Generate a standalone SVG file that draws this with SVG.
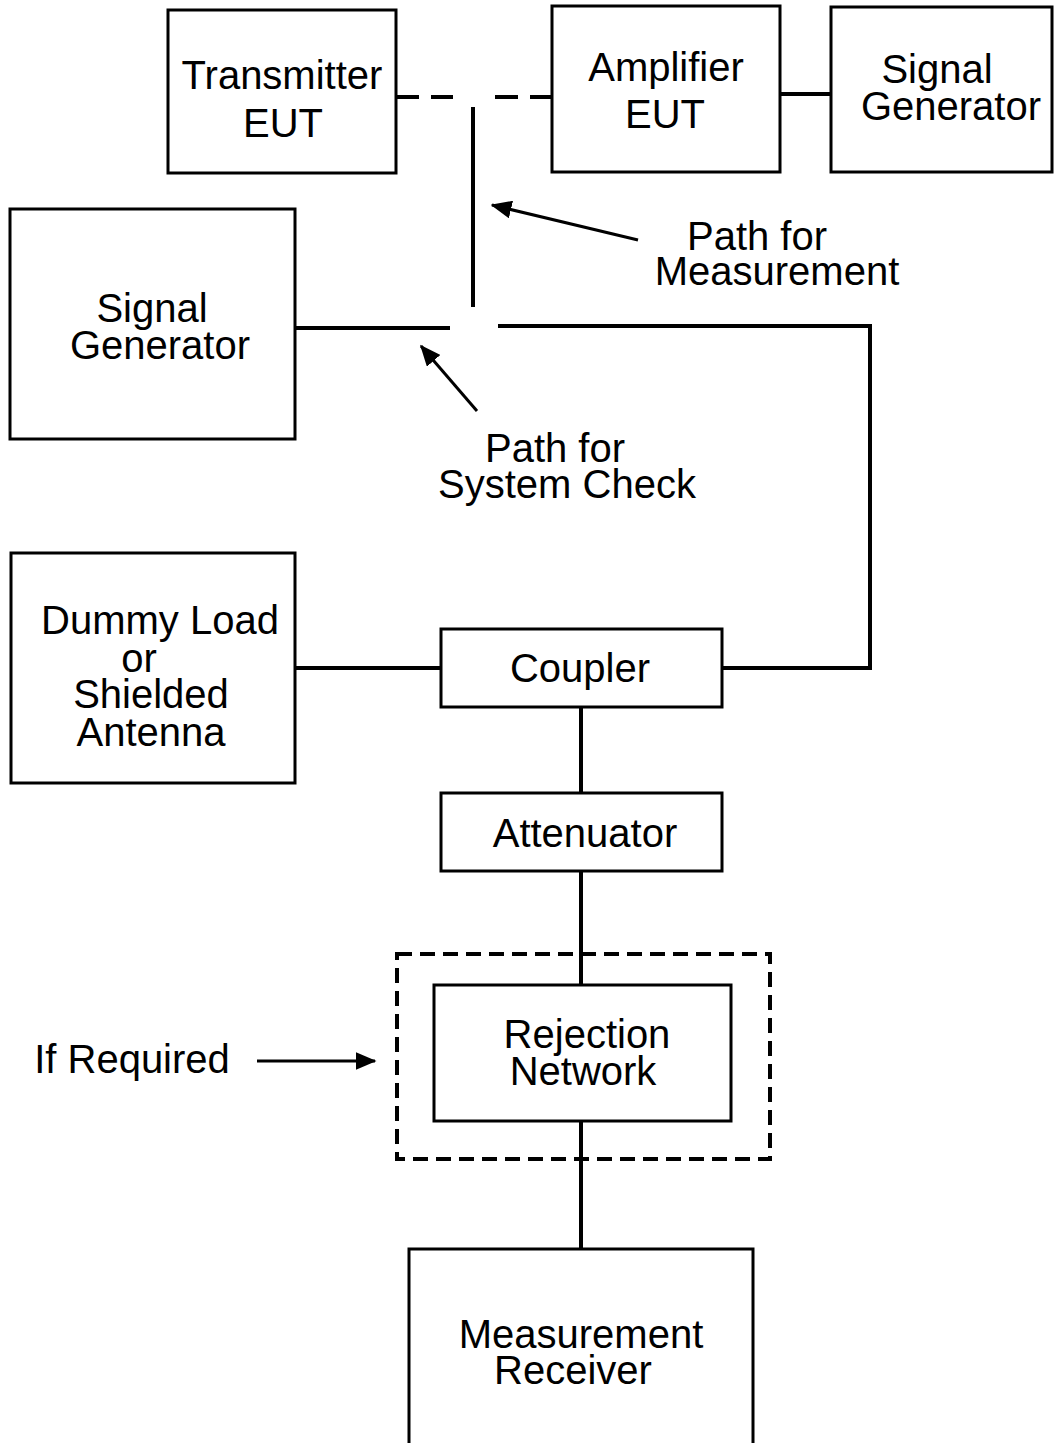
<svg xmlns="http://www.w3.org/2000/svg" width="1054" height="1443" viewBox="0 0 1054 1443">
<style>
.box{fill:#fff;stroke:#000;stroke-width:3}
.dbox{fill:none;stroke:#000;stroke-width:4;stroke-dasharray:15 8}
.ln{fill:none;stroke:#000;stroke-width:4}
.dl{fill:none;stroke:#000;stroke-width:4;stroke-dasharray:23 12}
.ar{fill:none;stroke:#000;stroke-width:3}
text{font-family:"Liberation Sans",Arial,sans-serif;font-size:40px;fill:#000;text-anchor:middle}
</style>
<defs>
<marker id="ah" markerWidth="7" markerHeight="6" refX="6.5" refY="3" orient="auto" markerUnits="strokeWidth">
<path d="M0,0 L7,3 L0,6 Z" fill="#000"/>
</marker>
</defs>
<rect width="1054" height="1443" fill="#fff"/>
<g id="connectors">
<line class="dl" x1="396" y1="97" x2="453" y2="97"/>
<line class="dl" x1="495" y1="97" x2="552" y2="97"/>
<line class="ln" x1="780" y1="94" x2="831" y2="94"/>
<line class="ln" x1="473" y1="107" x2="473" y2="307"/>
<line class="ln" x1="295" y1="328" x2="450" y2="328"/>
<polyline class="ln" points="498,326 870,326 870,668 722,668"/>
<line class="ln" x1="295" y1="668" x2="441" y2="668"/>
<line class="ln" x1="581" y1="707" x2="581" y2="793"/>
<line class="ln" x1="581" y1="871" x2="581" y2="985"/>
<line class="ln" x1="581" y1="1121" x2="581" y2="1249"/>
<line class="ar" x1="638" y1="240" x2="492" y2="205" marker-end="url(#ah)"/>
<line class="ar" x1="477" y1="411" x2="421" y2="346" marker-end="url(#ah)"/>
<line class="ar" x1="257" y1="1061" x2="375" y2="1061" marker-end="url(#ah)"/>
</g>
<g id="transmitter">
<rect class="box" x="168" y="10" width="228" height="163"/>
<text x="282" y="89">Transmitter</text>
<text x="283" y="137">EUT</text>
</g>
<g id="amplifier">
<rect class="box" x="552" y="6" width="228" height="166"/>
<text x="666" y="81">Amplifier</text>
<text x="665" y="128">EUT</text>
</g>
<g id="siggen-top">
<rect class="box" x="831" y="7" width="221" height="165"/>
<text x="937" y="83">Signal</text>
<text x="951" y="120">Generator</text>
</g>
<g id="siggen-left">
<rect class="box" x="10" y="209" width="285" height="230"/>
<text x="152" y="322">Signal</text>
<text x="160" y="359">Generator</text>
</g>
<g id="label-measurement">
<text x="757" y="250">Path for</text>
<text x="777" y="285">Measurement</text>
</g>
<g id="label-systemcheck">
<text x="555" y="462">Path for</text>
<text x="567" y="498">System Check</text>
</g>
<g id="dummyload">
<rect class="box" x="11" y="553" width="284" height="230"/>
<text x="160" y="634">Dummy Load</text>
<text x="139" y="672">or</text>
<text x="151" y="708">Shielded</text>
<text x="151" y="746">Antenna</text>
</g>
<g id="coupler">
<rect class="box" x="441" y="629" width="281" height="78"/>
<text x="580" y="682">Coupler</text>
</g>
<g id="attenuator">
<rect class="box" x="441" y="793" width="281" height="78"/>
<text x="585" y="847">Attenuator</text>
</g>
<g id="optional">
<rect class="dbox" x="397" y="954" width="373" height="205"/>
</g>
<g id="rejection">
<rect class="box" x="434" y="985" width="297" height="136"/>
<text x="587" y="1048">Rejection</text>
<text x="583" y="1085">Network</text>
</g>
<g id="label-ifrequired">
<text x="132" y="1073">If Required</text>
</g>
<g id="receiver">
<rect class="box" x="409" y="1249" width="344" height="230"/>
<text x="581" y="1348">Measurement</text>
<text x="573" y="1384">Receiver</text>
</g>
</svg>
